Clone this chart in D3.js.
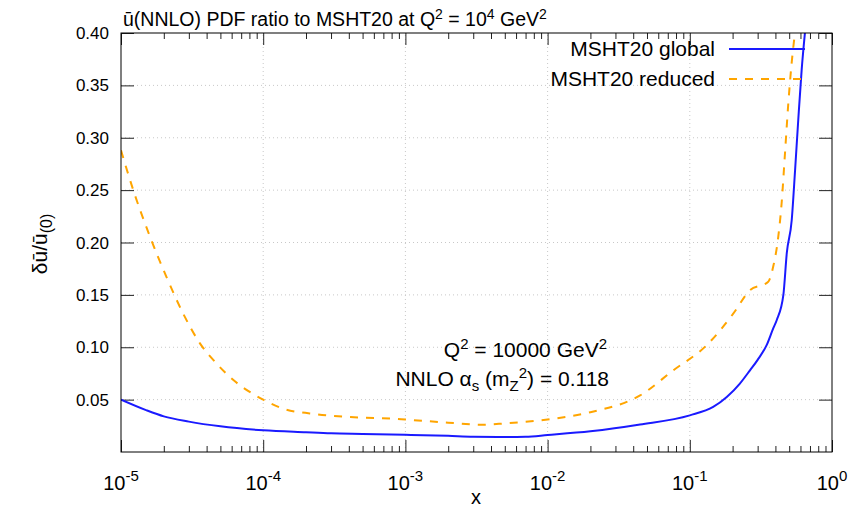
<!DOCTYPE html>
<html>
<head>
<meta charset="utf-8">
<script src="https://cdn.jsdelivr.net/npm/d3@7"></script>
<style>
  body { margin: 0; background: #fff; }
  text { font-family: "Liberation Sans", Arial, sans-serif; fill: #000; }
</style>
</head>
<body>
<div id="chart"></div>
<script>
// Values.
const xGlobal = [1e-5, 1.5e-5, 2e-5, 3e-5, 5e-5, 1e-4, 2e-4, 3e-4, 5e-4, 1e-3, 2e-3, 3e-3, 5e-3, 7e-3, 1e-2, 2e-2, 4.47e-2, 0.1, 0.146, 0.182, 0.225, 0.265, 0.30, 0.347, 0.386, 0.409, 0.455, 0.481, 0.521, 0.55, 0.579, 0.612, 0.645];
const yGlobal = [0.050, 0.040, 0.034, 0.029, 0.0245, 0.0207, 0.0188, 0.0178, 0.0172, 0.0164, 0.0154, 0.0146, 0.0144, 0.0146, 0.0162, 0.0197, 0.0262, 0.035, 0.043, 0.0525, 0.0653, 0.078, 0.088, 0.102, 0.118, 0.126, 0.150, 0.190, 0.2215, 0.269, 0.317, 0.365, 0.400];
const xReduced = [1e-5, 1.22e-5, 1.6e-5, 2.09e-5, 2.74e-5, 3.6e-5, 4.7e-5, 6.2e-5, 1e-4, 1.38e-4, 2.4e-4, 4.1e-4, 8.2e-4, 1e-3, 2e-3, 3.5e-3, 5e-3, 1e-2, 2e-2, 4.47e-2, 7.66e-2, 0.1315, 0.202, 0.265, 0.356, 0.386, 0.419, 0.442, 0.467, 0.493, 0.52, 0.549];
const yReduced = [0.288, 0.250, 0.2055, 0.167, 0.132, 0.1035, 0.0844, 0.0685, 0.050, 0.0414, 0.036, 0.0334, 0.0318, 0.031, 0.028, 0.026, 0.0273, 0.031, 0.038, 0.054, 0.078, 0.102, 0.132, 0.1545, 0.1625, 0.177, 0.2055, 0.237, 0.285, 0.333, 0.371, 0.400];
const seriesNames = ["MSHT20 global", "MSHT20 reduced"];
const xMajor = [1e-5, 1e-4, 1e-3, 1e-2, 1e-1, 1];
const xExponents = ["-5", "-4", "-3", "-2", "-1", "0"];
const yTicks = [0.05, 0.10, 0.15, 0.20, 0.25, 0.30, 0.35, 0.40];

const W = 855, H = 507;
const margin = { left: 121, right: 23, top: 33, bottom: 55 };

const svg = d3.select("#chart").append("svg")
  .attr("width", W).attr("height", H);

const x = d3.scaleLog().domain([1e-5, 1]).range([margin.left, W - margin.right]);
const y = d3.scaleLinear().domain([0, 0.4]).range([H - margin.bottom, margin.top]);

// Minor ticks 2..9 in each decade.
const xMinor = [];
for (let e = -5; e < 0; e++) for (let k = 2; k <= 9; k++) xMinor.push(k * Math.pow(10, e));

// Grid, dotted.
svg.append("g").selectAll("line").data(yTicks.slice(0, -1)).join("line")
  .attr("x1", x.range()[0]).attr("x2", x.range()[1])
  .attr("y1", d => y(d)).attr("y2", d => y(d))
  .attr("stroke", "#c8c8c8").attr("stroke-dasharray", "1,3");
svg.append("g").selectAll("line").data(xMajor.slice(1, -1)).join("line")
  .attr("x1", d => x(d)).attr("x2", d => x(d))
  .attr("y1", y.range()[0]).attr("y2", y.range()[1])
  .attr("stroke", "#c8c8c8").attr("stroke-dasharray", "1,3");

// Axes with inward ticks on all sides.
function styleAxis(g) {
  g.select(".domain").remove();
  g.selectAll("line").attr("stroke", "#222");
  g.selectAll("text").remove();
}
svg.append("g").attr("transform", `translate(0,${y.range()[0]})`)
  .call(d3.axisBottom(x).tickValues(xMajor).tickSize(-12)).call(styleAxis);
svg.append("g").attr("transform", `translate(0,${y.range()[0]})`)
  .call(d3.axisBottom(x).tickValues(xMinor).tickSize(-6)).call(styleAxis);
svg.append("g").attr("transform", `translate(0,${y.range()[1]})`)
  .call(d3.axisTop(x).tickValues(xMajor).tickSize(-12)).call(styleAxis);
svg.append("g").attr("transform", `translate(0,${y.range()[1]})`)
  .call(d3.axisTop(x).tickValues(xMinor).tickSize(-6)).call(styleAxis);
svg.append("g").attr("transform", `translate(${x.range()[0]},0)`)
  .call(d3.axisLeft(y).tickValues(yTicks).tickSize(-13)).call(styleAxis);
svg.append("g").attr("transform", `translate(${x.range()[1]},0)`)
  .call(d3.axisRight(y).tickValues(yTicks).tickSize(-13)).call(styleAxis);

// Tick labels.
svg.append("g").selectAll("text").data(yTicks).join("text")
  .attr("x", x.range()[0] - 12).attr("y", d => y(d) + 6)
  .attr("text-anchor", "end").attr("font-size", 17)
  .text(d => d.toFixed(2));
const xl = svg.append("g").selectAll("text").data(xMajor).join("text")
  .attr("x", d => x(d)).attr("y", 490)
  .attr("text-anchor", "middle").attr("font-size", 20);
xl.append("tspan").text("10");
xl.append("tspan").attr("dy", -9).attr("font-size", 15).text((d, i) => xExponents[i]);

// Axis titles.
svg.append("text").attr("x", 476).attr("y", 504).attr("text-anchor", "middle")
  .attr("font-size", 20).text("x");
const yl = svg.append("text").attr("transform", "translate(47,244) rotate(-90)")
  .attr("text-anchor", "middle").attr("font-size", 21);
yl.append("tspan").text("δu\u0304/u\u0304");
yl.append("tspan").attr("dy", 5).attr("font-size", 16).text("(0)");

// Title.
const title = svg.append("text").attr("x", 123).attr("y", 26).attr("font-size", 19.5);
title.append("tspan").text("u\u0304(NNLO) PDF ratio to MSHT20 at Q");
title.append("tspan").attr("dy", -7).attr("font-size", 14).text("2");
title.append("tspan").attr("dy", 7).text(" = 10");
title.append("tspan").attr("dy", -7).attr("font-size", 14).text("4");
title.append("tspan").attr("dy", 7).text(" GeV");
title.append("tspan").attr("dy", -7).attr("font-size", 14).text("2");

// Curves.
svg.append("clipPath").attr("id", "clip").append("rect")
  .attr("x", x.range()[0]).attr("y", y.range()[1])
  .attr("width", x.range()[1] - x.range()[0]).attr("height", y.range()[0] - y.range()[1]);
const line = d3.line().x(d => x(d[0])).y(d => y(d[1])).curve(d3.curveMonotoneX);
const plot = svg.append("g").attr("clip-path", "url(#clip)");
plot.append("path").datum(d3.zip(xReduced, yReduced))
  .attr("d", line).attr("fill", "none").attr("stroke", "#ffa500")
  .attr("stroke-width", 2).attr("stroke-dasharray", "8,8");
plot.append("path").datum(d3.zip(xGlobal, yGlobal))
  .attr("d", line).attr("fill", "none").attr("stroke", "#1a1aff")
  .attr("stroke-width", 2);

// Frame.
svg.append("rect").attr("x", x.range()[0]).attr("y", y.range()[1])
  .attr("width", x.range()[1] - x.range()[0]).attr("height", y.range()[0] - y.range()[1])
  .attr("fill", "none").attr("stroke", "#000").attr("stroke-width", 1);

// Legend.
const legColors = ["#1a1aff", "#ffa500"];
const leg = svg.append("g").selectAll("g").data(seriesNames).join("g")
  .attr("transform", (d, i) => `translate(0,${49 + i * 30})`);
leg.append("text").attr("x", 715).attr("y", 7).attr("text-anchor", "end")
  .attr("font-size", 21).text(d => d);
leg.append("line").attr("x1", 729).attr("x2", 805).attr("y1", 0).attr("y2", 0)
  .attr("stroke", (d, i) => legColors[i]).attr("stroke-width", 2)
  .attr("stroke-dasharray", (d, i) => i ? "8,8" : null);

// Annotation.
const a1 = svg.append("text").attr("x", 607).attr("y", 357).attr("text-anchor", "end").attr("font-size", 21);
a1.append("tspan").text("Q");
a1.append("tspan").attr("dy", -8).attr("font-size", 15).text("2");
a1.append("tspan").attr("dy", 8).text(" = 10000 GeV");
a1.append("tspan").attr("dy", -8).attr("font-size", 15).text("2");
const a2 = svg.append("text").attr("x", 609).attr("y", 386).attr("text-anchor", "end").attr("font-size", 21);
a2.append("tspan").text("NNLO α");
a2.append("tspan").attr("dy", 5).attr("font-size", 15).text("s");
a2.append("tspan").attr("dy", -5).text(" (m");
a2.append("tspan").attr("dy", 5).attr("font-size", 15).text("Z");
a2.append("tspan").attr("dy", -13).attr("font-size", 15).text("2");
a2.append("tspan").attr("dy", 8).text(") = 0.118");
</script>
</body>
</html>
